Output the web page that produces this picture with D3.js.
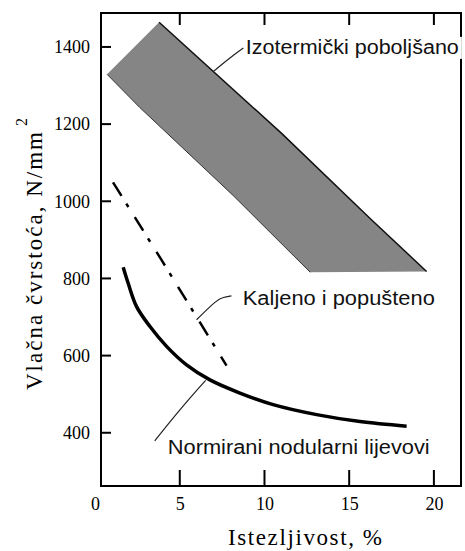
<!DOCTYPE html>
<html><head><meta charset="utf-8">
<script src="https://cdn.jsdelivr.net/npm/d3@7/dist/d3.min.js"></script>
<style>body{margin:0;background:#fff}svg{display:block}</style>
</head><body>
<script>
// ---- data ----
const xTicks = [0, 5, 10, 15, 20];
const yTicks = [400, 600, 800, 1000, 1200, 1400];
// Izotermički poboljšano band (upper edge, then lower edge)
const bandUpperX = [0.71, 3.78, 11.01, 16.22, 19.57];
const bandUpperY = [1329, 1464, 1176, 956, 818];
const bandLowerX = [12.70, 8.15, 2.64, 0.71];
const bandLowerY = [816, 1015, 1243, 1329];
// Kaljeno i popušteno
const kaljX = [1.06, 3.92, 7.76];
const kaljY = [1049, 848, 574];
// Normirani nodularni lijevovi
const normX = [1.66, 1.95, 2.45, 3.23, 4.22, 5.40, 6.78, 8.55, 10.51, 13.08, 15.64, 18.39];
const normY = [829, 788, 727, 676, 624, 576, 537, 503, 473, 447, 429, 417];
const labels = ["Izotermički poboljšano", "Kaljeno i popušteno", "Normirani nodularni lijevovi"];
const xTitle = "Istezljivost, %";
const yTitle = "Vlačna čvrstoća, N/mm";

const W = 465, H = 551;
const L = 101, R = 461, T = 13, B = 486;
const svg = d3.select("body").append("svg").attr("width", W).attr("height", H);
const x = d3.scaleLinear().domain([0.35, 21.6]).range([L, R]);
const y = d3.scaleLinear().domain([262, 1488]).range([B, T]);
const line = d3.line().x(d => x(d[0])).y(d => y(d[1]));
const zip = (a, b) => a.map((v, i) => [v, b[i]]);

// band
svg.append("path")
  .attr("d", line(zip(bandUpperX, bandUpperY).concat(zip(bandLowerX, bandLowerY))) + "Z")
  .attr("fill", "#858585").attr("stroke", "none");
svg.append("path")
  .attr("d", line(zip(bandUpperX, bandUpperY).slice(1)))
  .attr("fill", "none").attr("stroke", "#111").attr("stroke-width", 1.5);
svg.append("path")
  .attr("d", line(zip(bandLowerX, bandLowerY)))
  .attr("fill", "none").attr("stroke", "#333").attr("stroke-width", 1);

// dash-dot line
svg.append("path")
  .attr("d", line(zip(kaljX, kaljY)))
  .attr("fill", "none").attr("stroke", "#000").attr("stroke-width", 2.5)
  .attr("stroke-dasharray", "16,9,4,12");

// solid curve
svg.append("path")
  .attr("d", d3.line().curve(d3.curveCatmullRom).x(d => x(d[0])).y(d => y(d[1]))(zip(normX, normY)))
  .attr("fill", "none").attr("stroke", "#000").attr("stroke-width", 3.5);

// frame
svg.append("rect").attr("x", L).attr("y", T).attr("width", R - L).attr("height", B - T)
  .attr("fill", "none").attr("stroke", "#000").attr("stroke-width", 2);

// ticks (inward)
const tk = svg.append("g").attr("stroke", "#000").attr("stroke-width", 2);
yTicks.forEach(v => tk.append("line").attr("x1", L).attr("x2", L + 10).attr("y1", y(v)).attr("y2", y(v)));
xTicks.filter(v => v > 0).forEach(v => {
  tk.append("line").attr("x1", x(v)).attr("x2", x(v)).attr("y1", B).attr("y2", B - 16);
  tk.append("line").attr("x1", x(v)).attr("x2", x(v)).attr("y1", T).attr("y2", T + 12);
});

// axis labels
const fTick = "'Liberation Serif', serif";
const yAx = svg.append("g").attr("transform", `translate(${L},0)`)
  .call(d3.axisLeft(y).tickValues(yTicks).tickSize(0).tickPadding(11).tickFormat(d3.format("d")));
yAx.select(".domain").remove();
yAx.selectAll("line").remove();
yAx.selectAll("text").attr("font-family", fTick).attr("font-size", 18).attr("fill", "#000");

const xAxB = svg.append("g").attr("transform", `translate(0,${B})`)
  .call(d3.axisBottom(x).tickValues(xTicks).tickSize(0).tickPadding(11).tickFormat(d3.format("d")));
xAxB.select(".domain").remove();
xAxB.selectAll("line").remove();
xAxB.selectAll("text").attr("font-family", fTick).attr("font-size", 18).attr("fill", "#000");

// titles
svg.append("text").attr("x", 305).attr("y", 545).attr("text-anchor", "middle")
  .attr("font-family", fTick).attr("font-size", 23)
  .attr("textLength", 154).attr("lengthAdjust", "spacing").text(xTitle);
const yt = svg.append("g").attr("transform", "translate(42,390) rotate(-90)");
yt.append("text").attr("x", 0).attr("y", 0)
  .attr("font-family", fTick).attr("font-size", 23)
  .attr("textLength", 258).attr("lengthAdjust", "spacing").text(yTitle);
yt.append("text").attr("x", 264).attr("y", -15)
  .attr("font-family", fTick).attr("font-size", 16).text("2");

// annotations
const fLab = "'Liberation Sans', Arial, sans-serif";
const lead = d3.line().curve(d3.curveBasis).x(d => x(d[0])).y(d => y(d[1]));
const leaders = [
  [[8.75, 1397], [7.9, 1370], [6.97, 1336]],
  [[8.05, 755], [7.55, 751], [7.2, 745], [5.99, 693]],
  [[3.52, 379], [5.0, 460], [6.53, 536]]
];
leaders.forEach(p => svg.append("path").attr("d", lead(p))
  .attr("fill", "none").attr("stroke", "#222").attr("stroke-width", 1.2));

const labPos = [[8.9, 1382, 213], [8.72, 731, 192], [4.29, 346, 262]];
labPos.forEach((p, i) => {
  if (i === 0) {
    svg.append("rect").attr("x", x(p[0]) - 1).attr("y", y(p[1]) - 17)
      .attr("width", p[2] + 4).attr("height", 22).attr("fill", "#fff");
  }
  svg.append("text").attr("x", x(p[0])).attr("y", y(p[1]))
    .attr("font-family", fLab).attr("font-size", 20).attr("fill", "#111")
    .attr("textLength", p[2]).attr("lengthAdjust", "spacingAndGlyphs").text(labels[i]);
});
</script>
</body></html>
